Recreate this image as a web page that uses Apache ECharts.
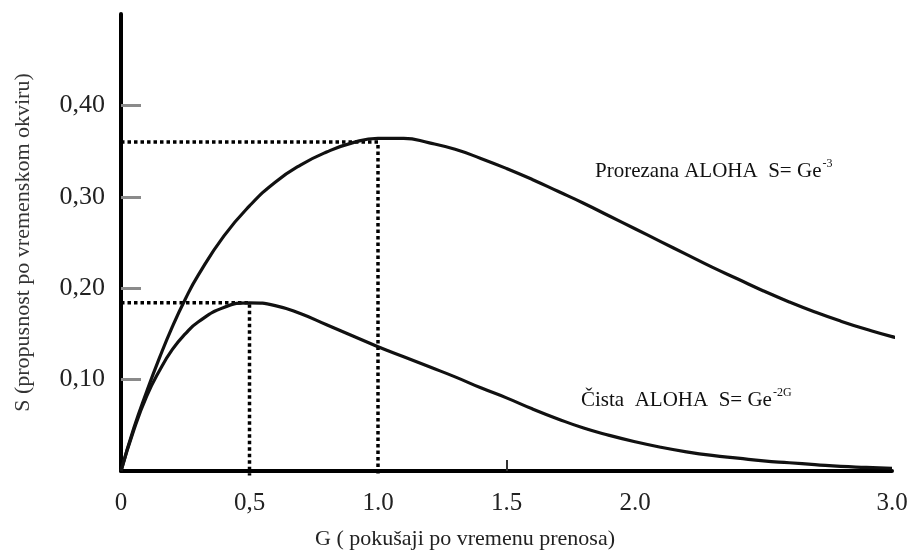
<!DOCTYPE html>
<html><head><meta charset="utf-8">
<script src="https://cdn.jsdelivr.net/npm/echarts@6/dist/echarts.min.js"></script>
<style>html,body{margin:0;padding:0;background:#fff}#c{width:914px;height:552px}</style>
</head><body><div id="c"></div>
<script>
// Slotted ALOHA (Prorezana) S = G e^-G
const gSlotted = [0,0.05,0.1,0.15,0.2,0.25,0.3,0.4,0.5,0.6,0.7,0.8,0.9,1.0,1.1,1.2,1.3,1.4,1.5,1.6,1.7,1.8,1.9,2.0,2.1,2.2,2.3,2.4,2.5,2.6,2.7,2.8,2.9,3.0,3.08];
const sSlotted = [0,0.047,0.087,0.124,0.158,0.188,0.214,0.257,0.290,0.316,0.335,0.349,0.359,0.364,0.364,0.359,0.352,0.342,0.331,0.319,0.306,0.293,0.279,0.265,0.251,0.237,0.223,0.210,0.197,0.185,0.174,0.164,0.155,0.147,0.142];
// Pure ALOHA (Čista) S = G e^-2G
const gPure = [0,0.05,0.1,0.15,0.2,0.25,0.3,0.4,0.5,0.6,0.7,0.8,0.9,1.0,1.1,1.2,1.3,1.4,1.5,1.6,1.7,1.8,1.9,2.0,2.1,2.2,2.3,2.4,2.5,2.6,2.7,2.8,2.9,3.0];
const sPure = [0,0.045,0.082,0.110,0.133,0.150,0.163,0.179,0.184,0.181,0.172,0.160,0.148,0.136,0.125,0.114,0.103,0.091,0.080,0.068,0.057,0.047,0.039,0.032,0.026,0.021,0.017,0.014,0.011,0.009,0.007,0.005,0.004,0.003];
// Peak guide lines
const peakG = [0.5, 1.0];
const peakS = [0.184, 0.36];
// Tick labels
const xTickValues = [0, 0.5, 1, 1.5, 2, 3];
const xTickLabels = ['0', '0,5', '1.0', '1.5', '2.0', '3.0'];
const yTickValues = [0.1, 0.2, 0.3, 0.4];
const yTickLabels = ['0,10', '0,20', '0,30', '0,40'];
const xMarkTicks = [1.5];
const xName = 'G ( pokušaji po vremenu prenosa)';
const yName = 'S (propusnost po vremenskom okviru)';
const slottedLabel = ['Prorezana ALOHA  S= Ge', '-3'];
const pureLabel = ['Čista  ALOHA  S= Ge', '-2G'];

const SERIF = '"Liberation Serif", "Times New Roman", serif';
const zip = (a, b) => a.map((v, i) => [v, b[i]]);

const guideSeries = peakG.map((g, i) => ({
  type: 'line', symbol: 'none', silent: true, clip: false, z: 1,
  data: [[0, peakS[i]], [g, peakS[i]], [g, -0.005]],
  lineStyle: { color: '#000', width: 3.5, type: [3.5, 3], cap: 'butt' }
}));

const chart = echarts.init(document.getElementById('c'), null, { renderer: 'canvas' });
chart.setOption({
  animation: false,
  backgroundColor: '#fff',
  grid: { left: 121, right: 22, top: 14, bottom: 81, containLabel: false, outerBoundsMode: 'none' },
  xAxis: {
    type: 'value', min: 0, max: 3,
    name: xName, nameLocation: 'middle', nameGap: 57,
    nameTextStyle: { fontFamily: SERIF, fontSize: 22, color: '#222', padding: [0, 83, 0, 0] },
    axisLine: { show: true, onZero: false, lineStyle: { color: '#000', width: 4 } },
    axisTick: { show: true, inside: true, length: 11, customValues: xMarkTicks, lineStyle: { color: '#333', width: 2 } },
    axisLabel: {
      customValues: xTickValues, margin: 20, fontFamily: SERIF, fontSize: 25, color: '#222',
      formatter: v => { const i = xTickValues.findIndex(t => Math.abs(t - v) < 1e-9); return i >= 0 ? xTickLabels[i] : ''; }
    },
    splitLine: { show: false }
  },
  yAxis: {
    type: 'value', min: 0, max: 0.5,
    name: yName, nameLocation: 'middle', nameGap: 87, nameRotate: 90,
    nameTextStyle: { fontFamily: SERIF, fontSize: 22, color: '#333' },
    axisLine: { show: true, lineStyle: { color: '#000', width: 4 } },
    axisTick: { show: true, inside: true, length: 20, customValues: yTickValues, lineStyle: { color: '#8a8a8a', width: 3 } },
    axisLabel: {
      customValues: yTickValues, margin: 16, fontFamily: SERIF, fontSize: 26, color: '#222', padding: [0, 0, 10, 0],
      formatter: v => { const i = yTickValues.findIndex(t => Math.abs(t - v) < 1e-9); return i >= 0 ? yTickLabels[i] : ''; }
    },
    splitLine: { show: false }
  },
  graphic: [
    {
      type: 'text', left: 595, top: 158,
      style: {
        text: '{a|' + slottedLabel[0] + '}{s|' + slottedLabel[1] + '}',
        rich: {
          a: { fontFamily: SERIF, fontSize: 21, fill: '#111', lineHeight: 24, verticalAlign: 'bottom' },
          s: { fontFamily: SERIF, fontSize: 12, fill: '#111', lineHeight: 24, verticalAlign: 'top', padding: [0, 0, 0, 1] }
        }
      }
    },
    {
      type: 'text', left: 581, top: 387,
      style: {
        text: '{a|' + pureLabel[0] + '}{s|' + pureLabel[1] + '}',
        rich: {
          a: { fontFamily: SERIF, fontSize: 21, fill: '#111', lineHeight: 24, verticalAlign: 'bottom' },
          s: { fontFamily: SERIF, fontSize: 12, fill: '#111', lineHeight: 24, verticalAlign: 'top', padding: [0, 0, 0, 1] }
        }
      }
    }
  ],
  series: [
    ...guideSeries,
    { type: 'line', name: 'Prorezana ALOHA', data: zip(gSlotted, sSlotted), smooth: true, symbol: 'none', clip: false, z: 3,
      lineStyle: { color: '#111', width: 3.2 } },
    { type: 'line', name: 'Čista ALOHA', data: zip(gPure, sPure), smooth: true, symbol: 'none', clip: false, z: 3,
      lineStyle: { color: '#111', width: 3.2 } }
  ]
});
</script></body></html>
